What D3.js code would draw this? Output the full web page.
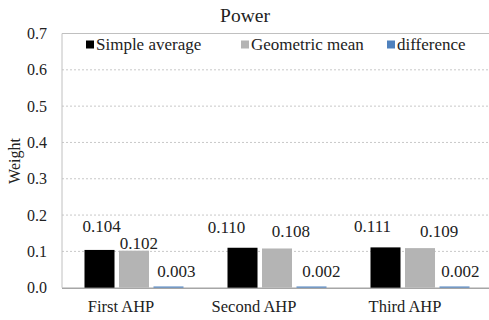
<!DOCTYPE html>
<html>
<head>
<meta charset="utf-8">
<script src="https://cdn.jsdelivr.net/npm/d3@7"></script>
<style>
body{margin:0;background:#fff;}
</style>
</head>
<body>
<script>
// data
var categories = ["First AHP","Second AHP","Third AHP"];
var seriesNames = ["Simple average","Geometric mean","difference"];
var simpleAvg = [0.104,0.110,0.111];
var geoMean = [0.102,0.108,0.109];
var diff = [0.003,0.002,0.002];
var yTicks = [0,0.1,0.2,0.3,0.4,0.5,0.6,0.7];

var colors = ["#000000","#b4b4b4","#4f81bd"];
var FONT = "Liberation Serif";
// label nudges [dx,dy] per series per category (Excel-like placement)
var labelNudge = [
  [[2,-24],[-16,-21],[-13,-21]],
  [[5,-8],[14,-17],[19,-17]],
  [[8,-16],[10,-16],[6,-16]]
];
var catNudge = [-13,-23,-15];

var width = 489, height = 320;
var plotLeft = 62, plotTop = 33.5, plotBottom = 287.7;

var svg = d3.select("body").append("svg")
  .attr("width",width).attr("height",height)
  .attr("font-family",FONT);

var values = [simpleAvg,geoMean,diff];

var x0 = d3.scaleBand().domain(categories).range([62.5,491.5])
  .paddingInner(0.3077).paddingOuter(0.1538);
var x1 = d3.scaleBand().domain(seriesNames).range([0,x0.bandwidth()])
  .paddingInner(0.13);
var y = d3.scaleLinear().domain([0,0.7]).range([plotBottom,plotTop]);

// gridlines
svg.append("g").selectAll("line")
  .data(yTicks.filter(function(d){return d>0 && d<0.7;}))
  .enter().append("line")
  .attr("x1",plotLeft).attr("x2",width)
  .attr("y1",function(d){return y(d);})
  .attr("y2",function(d){return y(d);})
  .attr("stroke","#c8c8c8").attr("stroke-width",1)
  .attr("stroke-dasharray","2,2");

// plot frame
svg.append("line").attr("x1",plotLeft).attr("x2",width).attr("y1",y(0.7)).attr("y2",y(0.7))
  .attr("stroke","#c0c0c0");
svg.append("line").attr("x1",plotLeft).attr("x2",plotLeft).attr("y1",y(0.7)).attr("y2",plotBottom)
  .attr("stroke","#c0c0c0");

// baseline (under the bars so the tiny blue bars stay visible)
svg.append("line").attr("x1",plotLeft).attr("x2",width).attr("y1",plotBottom+0.5).attr("y2",plotBottom+0.5)
  .attr("stroke","#a6a6a6").attr("stroke-width",1.5);

// y axis labels
var yAxis = d3.axisLeft(y).tickValues(yTicks).tickFormat(d3.format(".1f")).tickSize(0).tickPadding(15);
var yg = svg.append("g").attr("transform","translate("+plotLeft+",0)").call(yAxis);
yg.attr("font-family",FONT);
yg.select(".domain").remove();
yg.selectAll("text").attr("font-size","16px").attr("fill","#222")
  .attr("font-family",FONT);

// bars
var groups = svg.append("g").selectAll("g")
  .data(categories).enter().append("g")
  .attr("transform",function(d){return "translate("+x0(d)+",0)";});

groups.selectAll("rect")
  .data(function(d,i){return seriesNames.map(function(s,j){return {s:s,j:j,i:i,v:values[j][i]};});})
  .enter().append("rect")
  .attr("x",function(d){return x1(d.s);})
  .attr("width",x1.bandwidth())
  .attr("y",function(d){return Math.min(y(d.v),plotBottom-1.2);})
  .attr("height",function(d){return Math.max(plotBottom-y(d.v),1.2);})
  .attr("fill",function(d){return colors[d.j];});

groups.selectAll("text")
  .data(function(d,i){return seriesNames.map(function(s,j){return {s:s,j:j,i:i,v:values[j][i]};});})
  .enter().append("text")
  .attr("x",function(d){return x1(d.s)+x1.bandwidth()/2+labelNudge[d.j][d.i][0];})
  .attr("y",function(d){return y(d.v)+labelNudge[d.j][d.i][1];})
  .attr("dy","0.35em")
  .attr("text-anchor","middle")
  .attr("font-family",FONT)
  .attr("font-size","17px").attr("fill","#222")
  .text(function(d){return d3.format(".3f")(d.v);});

// x axis labels
var xAxis = d3.axisBottom(x0).tickSize(0).tickPadding(13);
var xg = svg.append("g").attr("transform","translate(0,"+plotBottom+")").call(xAxis);
xg.attr("font-family",FONT);
xg.select(".domain").remove();
xg.selectAll("text").attr("font-size","16.5px").attr("fill","#222")
  .attr("font-family",FONT)
  .attr("dx",function(d,i){return catNudge[i];});

// title
svg.append("text").attr("x",245).attr("y",21.5).attr("text-anchor","middle")
  .attr("font-family",FONT)
  .attr("font-size","19.5px").attr("fill","#222").text("Power");

// y label
svg.append("text").attr("transform","translate(20,161) rotate(-90)")
  .attr("font-family",FONT)
  .attr("text-anchor","middle").attr("font-size","16px").attr("fill","#222").text("Weight");

// legend
var legendX = [86,241,387];
var leg = svg.append("g").selectAll("g").data(seriesNames).enter().append("g")
  .attr("transform",function(d,i){return "translate("+legendX[i]+",40)";});
leg.append("rect").attr("width",8).attr("height",8).attr("y",0.5)
  .attr("fill",function(d,i){return colors[i];});
leg.append("text").attr("x",10).attr("y",10)
  .attr("font-family",FONT)
  .attr("font-size","17px").attr("fill","#222")
  .text(function(d){return d;});
</script>
</body>
</html>
